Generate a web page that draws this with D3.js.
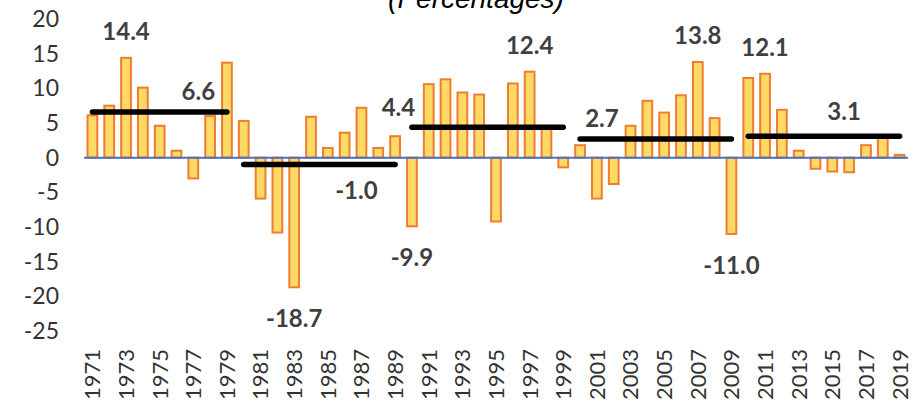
<!DOCTYPE html>
<html>
<head>
<meta charset="utf-8">
<script src="https://cdn.jsdelivr.net/npm/d3@7"></script>
<style>
  body { margin: 0; background: #fff; }
  svg { display: block; }
</style>
</head>
<body>
<svg id="chart" width="917" height="403"></svg>
<script>
"use strict";

// Data
var years = d3.range(1971, 2020);
var growth = [6.1, 7.5, 14.4, 10.1, 4.6, 1.0, -3.0, 6.0, 13.7, 5.3,
              -5.9, -10.8, -18.7, 5.9, 1.4, 3.6, 7.2, 1.4, 3.1, -9.9,
              10.6, 11.3, 9.4, 9.1, -9.2, 10.7, 12.4, 4.2, -1.4, 1.8,
              -5.9, -3.8, 4.6, 8.2, 6.5, 9.0, 13.8, 5.7, -11.0, 11.5,
              12.1, 6.9, 1.0, -1.6, -2.0, -2.1, 1.8, 3.0, 0.4];
var avgStart = [1971, 1980, 1990, 2000, 2010];
var avgEnd = [1979, 1989, 1999, 2009, 2019];
var avgValue = [6.6, -1.0, 4.4, 2.7, 3.1];
var labelledYears = [1973, 1983, 1990, 1997, 2007, 2009, 2011];
var yTicks = [-25, -20, -15, -10, -5, 0, 5, 10, 15, 20];
var xTicks = years.filter(function(d) { return d % 2 === 1; });

// where the average labels sit (year position, pixel shift from the line)
var avgLabelYear = [1977.3, 1986.7, 1989.2, 2001.3, 2015.7];
var avgLabelDy = [-12, 34, -11, -11.5, -16];

window.onload = function() {
  var svg = d3.select("#chart");
  var labelFont = "Lato, 'Open Sans', sans-serif";

  var x = d3.scaleBand()
            .domain(years)
            .range([84, 908])
            .paddingInner(0.42)
            .paddingOuter(0.21);
  var y = d3.scaleLinear().domain([-25, 20]).range([331, 19]);
  var xc = function(yr) { return x(yr) + x.bandwidth() / 2; };
  var xYear = d3.scaleLinear()
                .domain([1971, 2019])
                .range([xc(1971), xc(2019)]);

  // title, partly cut off at the top
  svg.append("text")
     .attr("x", 476)
     .attr("y", 8)
     .attr("text-anchor", "middle")
     .style("font-family", "'Liberation Sans', Arial, sans-serif")
     .style("font-style", "italic")
     .style("font-size", "28px")
     .style("fill", "#000")
     .text("(Percentages)");

  // bars
  svg.append("g").selectAll("rect")
     .data(years)
     .enter().append("rect")
     .attr("x", function(d) { return x(d); })
     .attr("width", x.bandwidth())
     .attr("y", function(d, i) { return y(Math.max(0, growth[i])); })
     .attr("height", function(d, i) { return Math.abs(y(growth[i]) - y(0)); })
     .attr("fill", "#FFD966")
     .attr("stroke", "#ED7D31")
     .attr("stroke-width", 2);

  // zero line
  svg.append("line")
     .attr("x1", 84).attr("x2", 908)
     .attr("y1", y(0)).attr("y2", y(0))
     .attr("stroke", "#4472C4")
     .attr("stroke-width", 2);

  // decade averages
  svg.append("g").selectAll("line")
     .data(avgValue)
     .enter().append("line")
     .attr("x1", function(d, i) { return xc(avgStart[i]); })
     .attr("x2", function(d, i) { return xc(avgEnd[i]); })
     .attr("y1", function(d) { return y(d); })
     .attr("y2", function(d) { return y(d); })
     .attr("stroke", "#000")
     .attr("stroke-width", 5.5)
     .attr("stroke-linecap", "round");

  svg.append("g").selectAll("text")
     .data(avgValue)
     .enter().append("text")
     .attr("x", function(d, i) { return xYear(avgLabelYear[i]); })
     .attr("y", function(d, i) { return y(d) + avgLabelDy[i]; })
     .attr("text-anchor", "middle")
     .style("font-family", labelFont)
     .style("font-weight", "bold")
     .style("font-size", "24px")
     .style("fill", "#404040")
     .text(function(d) { return d3.format(".1f")(d).replace("−", "-"); });

  // value labels on the extreme bars
  svg.append("g").selectAll("text")
     .data(labelledYears)
     .enter().append("text")
     .attr("x", function(d) { return xc(d); })
     .attr("y", function(d) {
       var v = growth[years.indexOf(d)];
       return v >= 0 ? y(v) - 18 : y(v) + 40;
     })
     .attr("text-anchor", "middle")
     .style("font-family", labelFont)
     .style("font-weight", "bold")
     .style("font-size", "24px")
     .style("fill", "#404040")
     .text(function(d) { return d3.format(".1f")(growth[years.indexOf(d)]).replace("−", "-"); });

  // y axis
  var yAxis = svg.append("g")
                 .attr("transform", "translate(62,0)")
                 .call(d3.axisLeft(y).tickValues(yTicks).tickSize(0).tickPadding(3)
                         .tickFormat(function(d) { return String(d); }));
  yAxis.select(".domain").remove();
  yAxis.selectAll("text")
       .style("font-family", labelFont)
       .style("font-size", "23px")
       .style("fill", "#333");

  // x axis, rotated years
  var xAxis = svg.append("g")
                 .attr("transform", "translate(0,340)")
                 .call(d3.axisBottom(x).tickValues(xTicks).tickSize(0));
  xAxis.select(".domain").remove();
  xAxis.selectAll("text")
       .attr("transform", "rotate(-90)")
       .attr("text-anchor", "end")
       .attr("x", -9)
       .attr("y", 0)
       .attr("dy", "0.36em")
       .style("font-family", labelFont)
       .style("font-size", "22px")
       .style("fill", "#333");
};
</script>
</body>
</html>
